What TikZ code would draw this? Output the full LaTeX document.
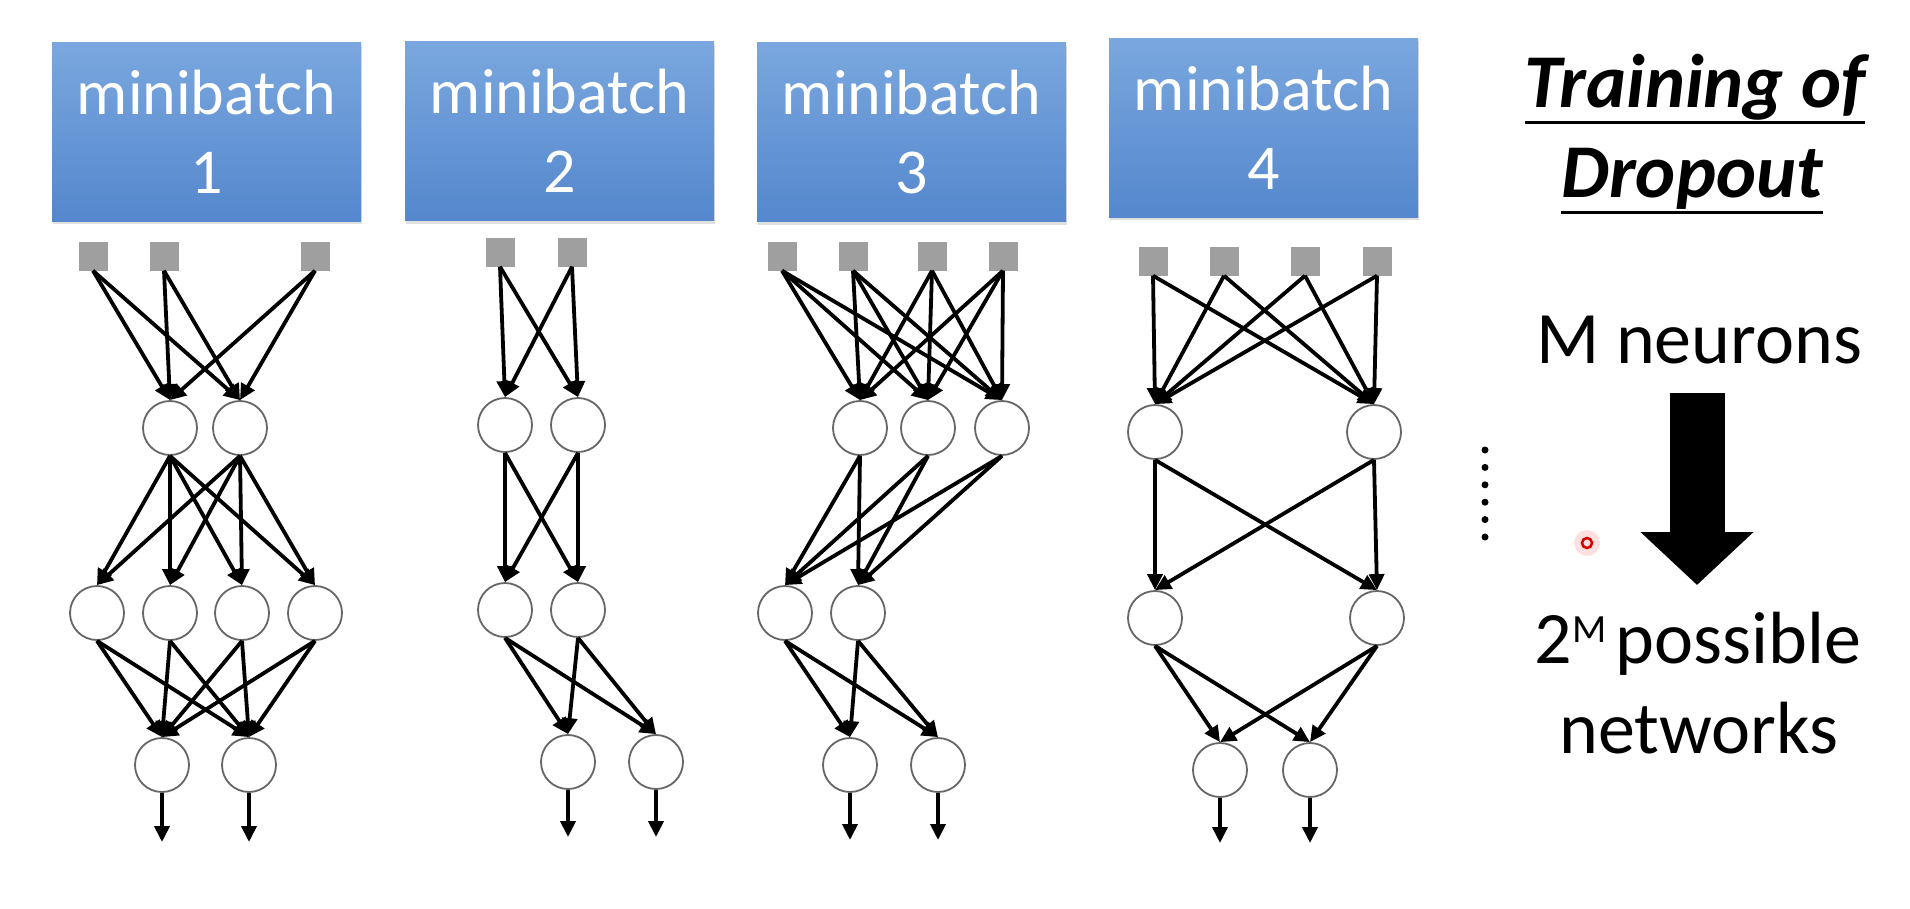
\documentclass[tikz,border=0pt]{standalone}
\usepackage{fontspec}
\setmainfont{Carlito}
\usepackage{xcolor}
\usepackage{tikz}
\usetikzlibrary{arrows.meta}
\usetikzlibrary{shadows}

\definecolor{boxtop}{RGB}{122,167,222}
\definecolor{boxbot}{RGB}{84,135,205}
\newcommand\titleul[1]{\setbox0\hbox{#1}\rlap{\vrule width\wd0 height -14pt depth 17pt}\box0}

\begin{document}
\begin{tikzpicture}[x=1pt,y=-1pt,
  batch/.style={rectangle,minimum width=309pt,minimum height=179pt,top color=boxtop,bottom color=boxbot,
    text=white,align=center,font=\fontsize{64}{79}\selectfont,
    drop shadow={opacity=0.25,shadow xshift=1pt,shadow yshift=-3pt}},
  pixel/.style={rectangle,minimum size=29pt,inner sep=0pt,fill=gray!75},
  unit/.style={circle,minimum size=54pt,inner sep=0pt,draw=black!60,line width=1.8pt,fill=white},
  syn/.style={line width=3.8pt,-{Triangle[length=16pt,width=15pt]}},
  big/.style={font=\fontsize{74}{90}\selectfont}]
\useasboundingbox (0,0) rectangle (1910,908);
\fill[white] (0,0) rectangle (1910,908);
\node[batch] (B1) at (206.5,131.5) {minibatch\\1};
\node[batch] (B2) at (559.5,131) {minibatch\\2};
\node[batch] (B3) at (911.5,132) {minibatch\\3};
\node[batch] (B4) at (1263.5,127.5) {minibatch\\4};

\node[pixel] (I1-1) at (93,256) {};
\node[pixel] (I1-2) at (164,256) {};
\node[pixel] (I1-3) at (315,256) {};
\node[unit] (H1-1) at (170,428) {};
\node[unit] (H1-2) at (240,428) {};
\node[unit] (G1-1) at (97,613) {};
\node[unit] (G1-2) at (170,613) {};
\node[unit] (G1-3) at (242,613) {};
\node[unit] (G1-4) at (315,613) {};
\node[unit] (O1-1) at (162,765) {};
\node[unit] (O1-2) at (249,765) {};
\coordinate (E1-1) at (162,842);
\coordinate (E1-2) at (249,842);
\foreach \a in {1,2,3} \foreach \b in {1,2} \draw[syn] (I1-\a.south) -- (H1-\b.north);
\foreach \a in {1,2} \foreach \b in {1,...,4} \draw[syn] (H1-\a.south) -- (G1-\b.north);
\foreach \a in {1,...,4} \foreach \b in {1,2} \draw[syn] (G1-\a.south) -- (O1-\b.north);
\foreach \b in {1,2} \draw[syn] (O1-\b.south) -- (E1-\b);

\node[pixel] (I2-1) at (500,252) {};
\node[pixel] (I2-2) at (572,252) {};
\node[unit] (H2-1) at (505,425) {};
\node[unit] (H2-2) at (578,425) {};
\node[unit] (G2-1) at (505,610) {};
\node[unit] (G2-2) at (578,610) {};
\node[unit] (O2-1) at (568,762) {};
\node[unit] (O2-2) at (656,762) {};
\coordinate (E2-1) at (568,837);
\coordinate (E2-2) at (656,837);
\foreach \a in {1,2} \foreach \b in {1,2} \draw[syn] (I2-\a.south) -- (H2-\b.north);
\foreach \a in {1,2} \foreach \b in {1,2} \draw[syn] (H2-\a.south) -- (G2-\b.north);
\foreach \a in {1,2} \foreach \b in {1,2} \draw[syn] (G2-\a.south) -- (O2-\b.north);
\foreach \b in {1,2} \draw[syn] (O2-\b.south) -- (E2-\b);

\node[pixel] (I3-1) at (782,256) {};
\node[pixel] (I3-2) at (853,256) {};
\node[pixel] (I3-3) at (932,256) {};
\node[pixel] (I3-4) at (1003,256) {};
\node[unit] (H3-1) at (860,428) {};
\node[unit] (H3-2) at (928,428) {};
\node[unit] (H3-3) at (1002,428) {};
\node[unit] (G3-1) at (785,613) {};
\node[unit] (G3-2) at (858,613) {};
\node[unit] (O3-1) at (850,765) {};
\node[unit] (O3-2) at (938,765) {};
\coordinate (E3-1) at (850,840);
\coordinate (E3-2) at (938,840);
\foreach \a in {1,...,4} \foreach \b in {1,2,3} \draw[syn] (I3-\a.south) -- (H3-\b.north);
\foreach \a in {1,2,3} \foreach \b in {1,2} \draw[syn] (H3-\a.south) -- (G3-\b.north);
\foreach \a in {1,2} \foreach \b in {1,2} \draw[syn] (G3-\a.south) -- (O3-\b.north);
\foreach \b in {1,2} \draw[syn] (O3-\b.south) -- (E3-\b);

\node[pixel] (I4-1) at (1153,261) {};
\node[pixel] (I4-2) at (1224,261) {};
\node[pixel] (I4-3) at (1305,261) {};
\node[pixel] (I4-4) at (1377,261) {};
\node[unit] (H4-1) at (1155,432) {};
\node[unit] (H4-2) at (1374,432) {};
\node[unit] (G4-1) at (1155,618) {};
\node[unit] (G4-2) at (1377,618) {};
\node[unit] (O4-1) at (1220,770) {};
\node[unit] (O4-2) at (1310,770) {};
\coordinate (E4-1) at (1220,843);
\coordinate (E4-2) at (1310,843);
\foreach \a in {1,...,4} \foreach \b in {1,2} \draw[syn] (I4-\a.south) -- (H4-\b.north);
\foreach \a in {1,2} \foreach \b in {1,2} \draw[syn] (H4-\a.south) -- (G4-\b.north);
\foreach \a in {1,2} \foreach \b in {1,2} \draw[syn] (G4-\a.south) -- (O4-\b.north);
\foreach \b in {1,2} \draw[syn] (O4-\b.south) -- (E4-\b);

\foreach \k in {0,...,5} \fill (1485,450+17.4*\k) circle (3.5pt);
\fill[red!30,opacity=0.4] (1587,543) circle (13pt);
\draw[red!85!black,line width=2.5pt] (1587,543) circle (5pt);

\node[anchor=base,font=\fontsize{76}{90}\selectfont\bfseries\itshape] (T1) at (1695,107) {\titleul{Training of}};
\node[anchor=base,font=\fontsize{76}{90}\selectfont\bfseries\itshape] (T2) at (1692,197) {\titleul{Dropout}};
\node[big,anchor=base] (MN) at (1699,363) {M neurons};
\node[big,anchor=base] (PN) at (1698,663) {2\raisebox{21pt}{\fontsize{40}{40}\selectfont M}\hspace{9pt}possible};
\node[big,anchor=base] (NW) at (1699,753) {networks};
\coordinate (bigtop) at (1697,393);
\coordinate (bigtip) at (1697,585);
\draw[line width=55pt,-{Triangle[width=110pt,length=53pt]}] (bigtop) -- (bigtip);
\end{tikzpicture}
\end{document}
